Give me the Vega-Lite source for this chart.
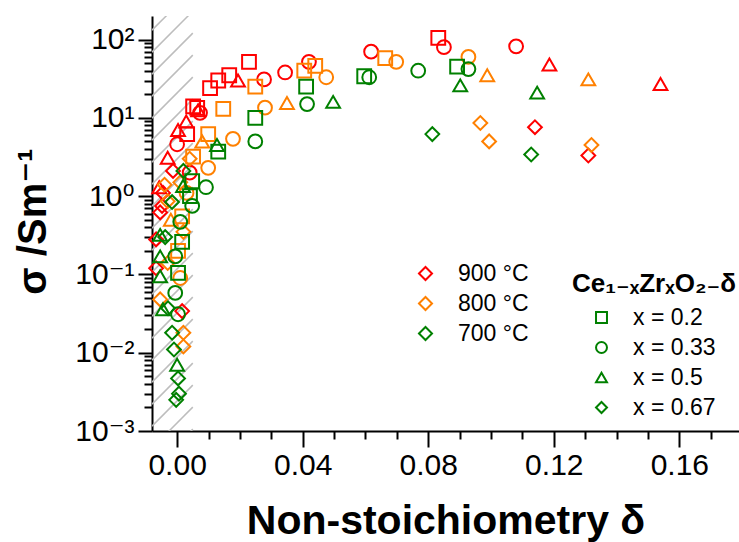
{
  "$schema": "https://vega.github.io/schema/vega-lite/v6.json",
  "width": 587,
  "height": 415,
  "autosize": {"type": "none"},
  "padding": {"left": 152, "top": 16, "right": 0, "bottom": 111},
  "config": {"view": {"stroke": null}, "font": "Liberation Sans, Arial, DejaVu Sans"},
  "datasets": {
    "hatch": [
      {"x0": -0.008, "x1": 0.005, "y0": 0.000316, "y1": 0.001057},
      {"x0": -0.008, "x1": 0.005, "y0": 0.000604, "y1": 0.002018},
      {"x0": -0.008, "x1": 0.005, "y0": 0.001153, "y1": 0.003855},
      {"x0": -0.008, "x1": 0.005, "y0": 0.002203, "y1": 0.007362},
      {"x0": -0.008, "x1": 0.005, "y0": 0.004207, "y1": 0.01406},
      {"x0": -0.008, "x1": 0.005, "y0": 0.008035, "y1": 0.02685},
      {"x0": -0.008, "x1": 0.005, "y0": 0.01535, "y1": 0.05129},
      {"x0": -0.008, "x1": 0.005, "y0": 0.02931, "y1": 0.09795},
      {"x0": -0.008, "x1": 0.005, "y0": 0.05598, "y1": 0.1871},
      {"x0": -0.008, "x1": 0.005, "y0": 0.1069, "y1": 0.3573},
      {"x0": -0.008, "x1": 0.005, "y0": 0.2042, "y1": 0.6823},
      {"x0": -0.008, "x1": 0.005, "y0": 0.3899, "y1": 1.303},
      {"x0": -0.008, "x1": 0.005, "y0": 0.7447, "y1": 2.489},
      {"x0": -0.008, "x1": 0.005, "y0": 1.422, "y1": 4.753},
      {"x0": -0.008, "x1": 0.005, "y0": 2.716, "y1": 9.078},
      {"x0": -0.008, "x1": 0.005, "y0": 5.188, "y1": 17.34},
      {"x0": -0.008, "x1": 0.005, "y0": 9.908, "y1": 33.11},
      {"x0": -0.008, "x1": 0.005, "y0": 18.92, "y1": 63.24},
      {"x0": -0.008, "x1": 0.005, "y0": 36.14, "y1": 120.8},
      {"x0": -0.008, "x1": 0.005, "y0": 69.02, "y1": 230.7},
      {"x0": -0.008, "x1": 0.005, "y0": 131.8, "y1": 440.6}
    ],
    "pts": [
      {"T": "900 °C", "c": "x = 0.2", "d": 0.0832, "s": 105},
      {"T": "900 °C", "c": "x = 0.2", "d": 0.0229, "s": 52},
      {"T": "900 °C", "c": "x = 0.2", "d": 0.0166, "s": 35},
      {"T": "900 °C", "c": "x = 0.2", "d": 0.0131, "s": 30},
      {"T": "900 °C", "c": "x = 0.2", "d": 0.0105, "s": 24},
      {"T": "900 °C", "c": "x = 0.2", "d": 0.0064, "s": 13.4},
      {"T": "900 °C", "c": "x = 0.2", "d": 0.0051, "s": 14},
      {"T": "900 °C", "c": "x = 0.2", "d": 0.0032, "s": 6.2},
      {"T": "900 °C", "c": "x = 0.33", "d": 0.108, "s": 82},
      {"T": "900 °C", "c": "x = 0.33", "d": 0.085, "s": 80},
      {"T": "900 °C", "c": "x = 0.33", "d": 0.0618, "s": 70},
      {"T": "900 °C", "c": "x = 0.33", "d": 0.042, "s": 52},
      {"T": "900 °C", "c": "x = 0.33", "d": 0.0344, "s": 38},
      {"T": "900 °C", "c": "x = 0.33", "d": 0.0277, "s": 31},
      {"T": "900 °C", "c": "x = 0.33", "d": 0.0073, "s": 11.6},
      {"T": "900 °C", "c": "x = 0.33", "d": 0.0, "s": 4.6},
      {"T": "900 °C", "c": "x = 0.33", "d": 0.004, "s": 2.0},
      {"T": "900 °C", "c": "x = 0.5", "d": 0.1186, "s": 48},
      {"T": "900 °C", "c": "x = 0.5", "d": 0.154, "s": 27},
      {"T": "900 °C", "c": "x = 0.5", "d": 0.0194, "s": 30},
      {"T": "900 °C", "c": "x = 0.5", "d": 0.0067, "s": 12.5},
      {"T": "900 °C", "c": "x = 0.5", "d": 0.0029, "s": 9},
      {"T": "900 °C", "c": "x = 0.5", "d": 0.0003, "s": 7},
      {"T": "900 °C", "c": "x = 0.5", "d": -0.003, "s": 3.1},
      {"T": "900 °C", "c": "x = 0.5", "d": -0.0057, "s": 1.3},
      {"T": "900 °C", "c": "x = 0.67", "d": 0.114, "s": 7.6},
      {"T": "900 °C", "c": "x = 0.67", "d": 0.131, "s": 3.3},
      {"T": "900 °C", "c": "x = 0.67", "d": -0.0013, "s": 2.1},
      {"T": "900 °C", "c": "x = 0.67", "d": -0.0045, "s": 1.1},
      {"T": "900 °C", "c": "x = 0.67", "d": -0.0054, "s": 0.62},
      {"T": "900 °C", "c": "x = 0.67", "d": -0.0048, "s": 0.75},
      {"T": "900 °C", "c": "x = 0.67", "d": -0.0067, "s": 0.28},
      {"T": "900 °C", "c": "x = 0.67", "d": -0.0067, "s": 0.12},
      {"T": "900 °C", "c": "x = 0.67", "d": 0.0016, "s": 0.034},
      {"T": "800 °C", "c": "x = 0.2", "d": 0.0663, "s": 58},
      {"T": "800 °C", "c": "x = 0.2", "d": 0.044, "s": 46},
      {"T": "800 °C", "c": "x = 0.2", "d": 0.0405, "s": 40},
      {"T": "800 °C", "c": "x = 0.2", "d": 0.0249, "s": 25},
      {"T": "800 °C", "c": "x = 0.2", "d": 0.0147, "s": 13},
      {"T": "800 °C", "c": "x = 0.2", "d": 0.0099, "s": 6.2},
      {"T": "800 °C", "c": "x = 0.2", "d": 0.0051, "s": 3.2},
      {"T": "800 °C", "c": "x = 0.2", "d": 0.0016, "s": 0.55},
      {"T": "800 °C", "c": "x = 0.2", "d": 0.0003, "s": 0.2},
      {"T": "800 °C", "c": "x = 0.33", "d": 0.0928, "s": 60},
      {"T": "800 °C", "c": "x = 0.33", "d": 0.0698, "s": 52},
      {"T": "800 °C", "c": "x = 0.33", "d": 0.0475, "s": 33},
      {"T": "800 °C", "c": "x = 0.33", "d": 0.028, "s": 13.5},
      {"T": "800 °C", "c": "x = 0.33", "d": 0.0178, "s": 5.4},
      {"T": "800 °C", "c": "x = 0.33", "d": 0.0099, "s": 2.3},
      {"T": "800 °C", "c": "x = 0.33", "d": 0.003, "s": 1.1},
      {"T": "800 °C", "c": "x = 0.33", "d": 0.001, "s": 0.09},
      {"T": "800 °C", "c": "x = 0.5", "d": 0.0988, "s": 35},
      {"T": "800 °C", "c": "x = 0.5", "d": 0.131, "s": 31},
      {"T": "800 °C", "c": "x = 0.5", "d": 0.035, "s": 15.5},
      {"T": "800 °C", "c": "x = 0.5", "d": 0.008, "s": 5},
      {"T": "800 °C", "c": "x = 0.5", "d": -0.002, "s": 0.5},
      {"T": "800 °C", "c": "x = 0.67", "d": 0.0966, "s": 8.6},
      {"T": "800 °C", "c": "x = 0.67", "d": 0.0994, "s": 5},
      {"T": "800 °C", "c": "x = 0.67", "d": 0.132, "s": 4.5},
      {"T": "800 °C", "c": "x = 0.67", "d": 0.004, "s": 3.0},
      {"T": "800 °C", "c": "x = 0.67", "d": 0.001, "s": 1.5},
      {"T": "800 °C", "c": "x = 0.67", "d": -0.004, "s": 1.4},
      {"T": "800 °C", "c": "x = 0.67", "d": -0.003, "s": 0.86},
      {"T": "800 °C", "c": "x = 0.67", "d": 0.002, "s": 0.35},
      {"T": "800 °C", "c": "x = 0.67", "d": -0.003, "s": 0.14},
      {"T": "800 °C", "c": "x = 0.67", "d": -0.0054, "s": 0.048},
      {"T": "800 °C", "c": "x = 0.67", "d": 0.002, "s": 0.018},
      {"T": "800 °C", "c": "x = 0.67", "d": 0.002, "s": 0.012},
      {"T": "700 °C", "c": "x = 0.2", "d": 0.0892, "s": 45},
      {"T": "700 °C", "c": "x = 0.2", "d": 0.0596, "s": 34},
      {"T": "700 °C", "c": "x = 0.2", "d": 0.0411, "s": 25},
      {"T": "700 °C", "c": "x = 0.2", "d": 0.0249, "s": 10},
      {"T": "700 °C", "c": "x = 0.2", "d": 0.0131, "s": 3.7},
      {"T": "700 °C", "c": "x = 0.2", "d": 0.0048, "s": 1.55},
      {"T": "700 °C", "c": "x = 0.2", "d": 0.0041, "s": 1.0},
      {"T": "700 °C", "c": "x = 0.2", "d": 0.0016, "s": 0.26},
      {"T": "700 °C", "c": "x = 0.2", "d": 0.0003, "s": 0.105},
      {"T": "700 °C", "c": "x = 0.33", "d": 0.0928, "s": 42},
      {"T": "700 °C", "c": "x = 0.33", "d": 0.0768, "s": 40},
      {"T": "700 °C", "c": "x = 0.33", "d": 0.0612, "s": 33},
      {"T": "700 °C", "c": "x = 0.33", "d": 0.0414, "s": 15},
      {"T": "700 °C", "c": "x = 0.33", "d": 0.0249, "s": 5},
      {"T": "700 °C", "c": "x = 0.33", "d": 0.0092, "s": 1.3},
      {"T": "700 °C", "c": "x = 0.33", "d": 0.0048, "s": 0.75},
      {"T": "700 °C", "c": "x = 0.33", "d": 0.001, "s": 0.47},
      {"T": "700 °C", "c": "x = 0.33", "d": -0.0006, "s": 0.17},
      {"T": "700 °C", "c": "x = 0.33", "d": -0.0006, "s": 0.058},
      {"T": "700 °C", "c": "x = 0.33", "d": 0.0003, "s": 0.031},
      {"T": "700 °C", "c": "x = 0.5", "d": 0.1147, "s": 21},
      {"T": "700 °C", "c": "x = 0.5", "d": 0.0902, "s": 26},
      {"T": "700 °C", "c": "x = 0.5", "d": 0.0497, "s": 16},
      {"T": "700 °C", "c": "x = 0.5", "d": 0.0127, "s": 4.5},
      {"T": "700 °C", "c": "x = 0.5", "d": 0.0019, "s": 1.35},
      {"T": "700 °C", "c": "x = 0.5", "d": -0.0054, "s": 0.32},
      {"T": "700 °C", "c": "x = 0.5", "d": -0.0054, "s": 0.17},
      {"T": "700 °C", "c": "x = 0.5", "d": -0.0054, "s": 0.095},
      {"T": "700 °C", "c": "x = 0.5", "d": -0.0045, "s": 0.036},
      {"T": "700 °C", "c": "x = 0.5", "d": 0.0, "s": 0.007},
      {"T": "700 °C", "c": "x = 0.67", "d": 0.0813, "s": 6.2},
      {"T": "700 °C", "c": "x = 0.67", "d": 0.1128, "s": 3.4},
      {"T": "700 °C", "c": "x = 0.67", "d": 0.002, "s": 2.1},
      {"T": "700 °C", "c": "x = 0.67", "d": -0.0016, "s": 0.84},
      {"T": "700 °C", "c": "x = 0.67", "d": -0.0038, "s": 0.3},
      {"T": "700 °C", "c": "x = 0.67", "d": -0.0029, "s": 0.037},
      {"T": "700 °C", "c": "x = 0.67", "d": -0.0016, "s": 0.018},
      {"T": "700 °C", "c": "x = 0.67", "d": -0.001, "s": 0.011},
      {"T": "700 °C", "c": "x = 0.67", "d": 0.0003, "s": 0.0047},
      {"T": "700 °C", "c": "x = 0.67", "d": 0.0006, "s": 0.003},
      {"T": "700 °C", "c": "x = 0.67", "d": -0.0003, "s": 0.0025}
    ]
  },
  "resolve": {"axis": {"x": "independent", "y": "independent"}},
  "layer": [
    {
      "data": {"name": "hatch"},
      "mark": {"type": "rule", "color": "#bdbdbd", "strokeWidth": 1.5, "clip": true},
      "encoding": {
        "x": {"field": "x0", "type": "quantitative", "scale": {"domain": [-0.008, 0.179], "nice": false, "zero": false},
          "axis": {"orient": "bottom", "values": [0.01, 0.02, 0.03, 0.05, 0.06, 0.07, 0.09, 0.1, 0.11, 0.13, 0.14, 0.15, 0.17], "labels": false, "title": null, "domain": false, "grid": false, "tickSize": 8, "tickWidth": 2, "tickColor": "black"}},
        "x2": {"field": "x1"},
        "y": {"field": "y0", "type": "quantitative", "scale": {"type": "log", "domain": [0.001, 200], "nice": false},
          "axis": {"orient": "left", "values": [0.002, 0.003, 0.004, 0.005, 0.006, 0.007, 0.008, 0.009, 0.02, 0.03, 0.04, 0.05, 0.06, 0.07, 0.08, 0.09, 0.2, 0.3, 0.4, 0.5, 0.6, 0.7, 0.8, 0.9, 2, 3, 4, 5, 6, 7, 8, 9, 20, 30, 40, 50, 60, 70, 80, 90], "labels": false, "title": null, "domain": false, "grid": false, "tickSize": 8, "tickWidth": 2, "tickColor": "black"}},
        "y2": {"field": "y1"}
      }
    },
    {
      "data": {"name": "pts"},
      "mark": {"type": "point", "filled": false, "strokeWidth": 2, "size": 190, "opacity": 1},
      "encoding": {
        "x": {"field": "d", "type": "quantitative", "scale": {"domain": [-0.008, 0.179], "nice": false, "zero": false},
          "axis": {"orient": "bottom", "values": [0, 0.04, 0.08, 0.12, 0.16], "format": ".2f", "grid": false, "domainColor": "black", "domainWidth": 2, "tickColor": "black", "tickWidth": 2, "tickSize": 16, "labelFontSize": 30, "labelColor": "black", "labelPadding": 3,
            "title": "Non-stoichiometry δ", "titleFontSize": 41, "titleFontWeight": "bold", "titleColor": "black", "titleBaseline": "alphabetic", "titleY": 102}},
        "y": {"field": "s", "type": "quantitative", "scale": {"type": "log", "domain": [0.001, 200], "nice": false},
          "axis": {"orient": "left", "values": [0.001, 0.01, 0.1, 1, 10, 100], "labelExpr": "datum.value >= 99 ? '10²' : datum.value >= 9.9 ? '10¹' : datum.value >= 0.99 ? '10⁰' : datum.value >= 0.099 ? '10⁻¹' : datum.value >= 0.0099 ? '10⁻²' : '10⁻³'", "grid": false, "domainColor": "black", "domainWidth": 2, "tickColor": "black", "tickWidth": 2, "tickSize": 14, "labelFontSize": 30, "labelColor": "black", "labelPadding": 4,
            "title": "σ /Sm⁻¹", "titleFontSize": 40, "titleFontWeight": "bold", "titleColor": "black", "titleX": -119, "titleY": 205, "titleAngle": 270, "titleBaseline": "middle", "titleAlign": "center"}},
        "color": {"field": "T", "type": "nominal",
          "scale": {"domain": ["900 °C", "800 °C", "700 °C"], "range": ["#ff0000", "#ff8000", "#008000"]},
          "legend": {"orient": "none", "legendX": 262, "legendY": 246, "title": null, "symbolType": "diamond", "symbolSize": 170, "symbolStrokeWidth": 2, "labelFontSize": 23, "labelColor": "black", "labelOffset": 21, "rowPadding": 6, "padding": 0}},
        "shape": {"field": "c", "type": "nominal",
          "scale": {"domain": ["x = 0.2", "x = 0.33", "x = 0.5", "x = 0.67"], "range": ["square", "circle", "triangle-up", "diamond"]},
          "legend": {"orient": "none", "legendX": 420, "legendY": 255, "title": "Ce₁₋ₓZrₓO₂₋δ", "titleFontSize": 26, "titleFontWeight": "bold", "titleColor": "black", "titlePadding": 9, "symbolStrokeColor": "#008000", "symbolSize": 120, "symbolStrokeWidth": 2, "symbolOffset": 18, "labelFontSize": 23, "labelColor": "black", "labelOffset": 20, "rowPadding": 6, "padding": 0}}
      }
    },
    {
      "mark": {"type": "rule", "color": "black", "strokeWidth": 2.5},
      "encoding": {"x": {"datum": 0, "type": "quantitative", "axis": null}}
    },
    {
      "mark": {"type": "rule", "color": "black", "strokeWidth": 2, "strokeDash": [7, 6]},
      "encoding": {"x": {"datum": 0.04, "type": "quantitative", "axis": null}}
    },
    {
      "mark": {"type": "rule", "color": "black", "strokeWidth": 2.5},
      "encoding": {"y": {"datum": 200, "type": "quantitative", "axis": null}}
    }
  ]
}
